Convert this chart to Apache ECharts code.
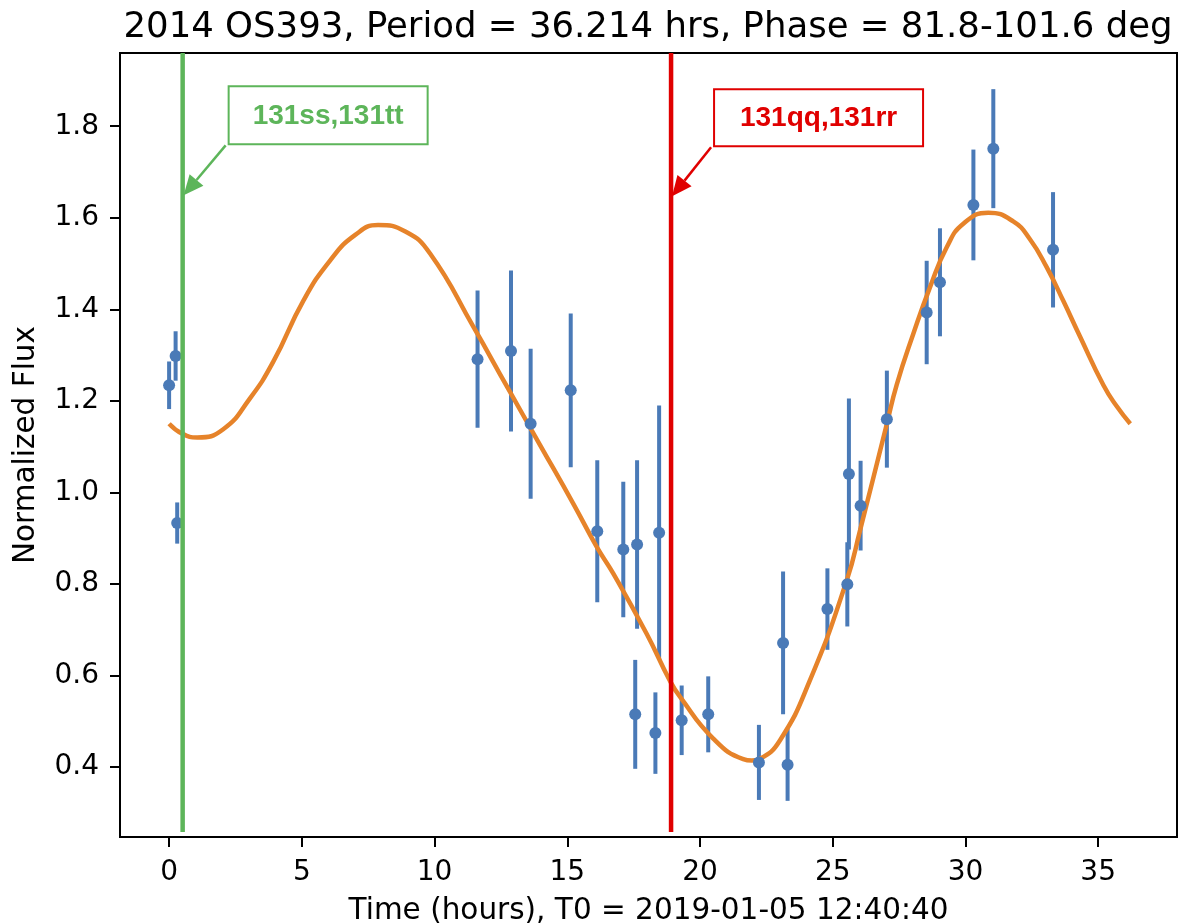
<!DOCTYPE html>
<html>
<head>
<meta charset="utf-8">
<script src="https://cdn.jsdelivr.net/npm/echarts@6/dist/echarts.min.js"></script>
<style>
  html, body { margin: 0; padding: 0; background: #fff; }
  #chart { width: 1179px; height: 924px; }
</style>
</head>
<body>
<div id="chart"></div>
<script>
// measured points (hours since T0), normalized flux and 1-sigma error
var timeHours = [0.0, 0.245, 0.305, 11.62, 12.88, 13.62, 15.13, 16.13, 17.11, 17.63, 17.56, 18.32, 18.46, 19.31,
  20.31, 22.22, 23.13, 23.30, 24.80, 25.55, 25.61, 26.05, 27.04, 28.54, 29.04, 30.30, 31.05, 33.30];
var flux = [1.234, 1.298, 0.933, 1.291, 1.309, 1.150, 1.223, 0.915, 0.875, 0.886, 0.515, 0.474, 0.912, 0.502,
  0.515, 0.410, 0.671, 0.405, 0.745, 0.799, 1.040, 0.971, 1.160, 1.393, 1.459, 1.628, 1.751, 1.530];
var fluxErr = [0.052, 0.054, 0.045, 0.150, 0.176, 0.164, 0.168, 0.155, 0.148, 0.184, 0.119, 0.089, 0.278, 0.076,
  0.083, 0.082, 0.156, 0.079, 0.089, 0.092, 0.165, 0.098, 0.106, 0.113, 0.118, 0.121, 0.130, 0.126];

// fitted light curve
var fitTime = [0, 0.5, 1.06, 2.04, 3.04, 3.92, 5.05, 6.07, 7.0, 7.87, 8.9, 9.83, 11.46, 12.72, 13.97,
  15.23, 16.11, 16.73, 17.99, 18.87, 19.25, 20.5, 21.63, 21.95, 22.26, 23.01, 24.14, 25.53, 26.03, 27.04, 27.41,
  28.04, 28.67, 29.3, 29.92, 30.86, 31.8, 32.43, 33.06, 33.69, 34.32, 35.2, 35.7, 36.21];
var fitFlux = [1.150, 1.128, 1.120, 1.138, 1.205, 1.285, 1.418, 1.507, 1.562, 1.584, 1.570, 1.522, 1.362,
  1.232, 1.104, 0.975, 0.881, 0.823, 0.691, 0.588, 0.553, 0.462, 0.417, 0.414, 0.418, 0.458, 0.589, 0.808, 0.917,
  1.150, 1.235, 1.347, 1.449, 1.536, 1.587, 1.611, 1.592, 1.553, 1.492, 1.418, 1.340, 1.234, 1.188, 1.150];

// observation epochs marked with vertical lines
var markTimes = [0.51, 18.91];
var markLabels = ['131ss,131tt', '131qq,131rr'];

var xTicks = [0, 5, 10, 15, 20, 25, 30, 35];
var yTicks = [0.4, 0.6, 0.8, 1.0, 1.2, 1.4, 1.6, 1.8];

var BLUE = '#4a7ab7';
var ORANGE = '#e6832a';
var markColors = ['#5db55a', '#e00000'];
var FONT = 'DejaVu Sans';

var xMin = -1.85, xMax = 37.97, yMin = 0.247, yMax = 1.96;
var markBottom = 0.258;

// box placement relative to arrow tip (pixels)
var boxLayout = [
  { tipFlux: 1.649, dx: 45, dy: -109, w: 199, h: 58 },
  { tipFlux: 1.647, dx: 42, dy: -107, w: 209, h: 57 }
];

var chart = echarts.init(document.getElementById('chart'));

var errData = timeHours.map(function (t, i) {
  return [t, flux[i] - fluxErr[i], flux[i] + fluxErr[i]];
});

var series = [
  {
    type: 'custom',
    z: 2,
    data: errData,
    encode: { x: 0, y: [1, 2] },
    renderItem: function (params, api) {
      var lo = api.coord([api.value(0), api.value(1)]);
      var hi = api.coord([api.value(0), api.value(2)]);
      return {
        type: 'line',
        shape: { x1: lo[0], y1: lo[1], x2: hi[0], y2: hi[1] },
        style: { stroke: BLUE, lineWidth: 4 }
      };
    }
  },
  {
    type: 'line',
    z: 3,
    data: fitTime.map(function (t, i) { return [t, fitFlux[i]]; }),
    showSymbol: false,
    smooth: 0.5,
    lineStyle: { color: ORANGE, width: 4.5 }
  },
  {
    type: 'scatter',
    z: 4,
    data: timeHours.map(function (t, i) { return [t, flux[i]]; }),
    symbolSize: 12,
    itemStyle: { color: BLUE, opacity: 1 }
  }
];

markTimes.forEach(function (t, i) {
  series.push({
    type: 'line',
    z: 5,
    data: [[t, markBottom], [t, yMax]],
    showSymbol: false,
    lineStyle: { color: markColors[i], width: 4.5 }
  });
});

var tickText = { fontFamily: FONT, fontSize: 28, color: '#000' };
var nameText = { fontFamily: FONT, fontSize: 29.5, color: '#000' };

var option = {
  animation: false,
  title: {
    text: '2014 OS393, Period = 36.214 hrs, Phase = 81.8-101.6 deg',
    left: 643,
    top: 5,
    textAlign: 'center',
    textStyle: { fontFamily: FONT, fontSize: 35.5, fontWeight: 'normal', color: '#000' }
  },
  grid: {
    left: 120, right: 2, top: 53, bottom: 87,
    outerBoundsMode: 'none',
    containLabel: false,
    show: true, borderColor: '#000', borderWidth: 2, backgroundColor: 'transparent'
  },
  xAxis: {
    type: 'value',
    min: xMin, max: xMax,
    axisLine: { onZero: false, lineStyle: { color: '#000', width: 2 } },
    axisTick: { customValues: xTicks, length: 10, lineStyle: { color: '#000', width: 2 } },
    axisLabel: Object.assign({ customValues: xTicks, margin: 22 }, tickText),
    splitLine: { show: false },
    name: 'Time (hours), T0 = 2019-01-05 12:40:40',
    nameLocation: 'middle',
    nameGap: 59,
    nameTextStyle: nameText
  },
  yAxis: {
    type: 'value',
    min: yMin, max: yMax,
    axisLine: { show: true, onZero: false, lineStyle: { color: '#000', width: 2 } },
    axisTick: { show: true, customValues: yTicks, length: 10, lineStyle: { color: '#000', width: 2 } },
    axisLabel: Object.assign({
      customValues: yTicks, margin: 21,
      formatter: function (v) { return v.toFixed(1); }
    }, tickText),
    splitLine: { show: false },
    name: 'Normalized Flux',
    nameLocation: 'middle',
    nameGap: 79,
    nameTextStyle: nameText
  },
  series: series
};

chart.setOption(option);

// annotation boxes with arrows pointing at the epoch lines
var graphics = [];
markTimes.forEach(function (t, i) {
  var lay = boxLayout[i];
  var color = markColors[i];
  var tip = chart.convertToPixel({ gridIndex: 0 }, [t, lay.tipFlux]);
  tip[0] += 1;
  var bx = tip[0] + lay.dx, by = tip[1] + lay.dy;
  var start = [bx - 3, by + lay.h + 1];
  var dx = tip[0] - start[0], dy = tip[1] - start[1];
  var len = Math.sqrt(dx * dx + dy * dy);
  var ux = dx / len, uy = dy / len;
  var headLen = 20, headHalf = 9;
  var base = [tip[0] - ux * headLen, tip[1] - uy * headLen];
  graphics.push({
    type: 'rect', z: 20,
    shape: { x: bx, y: by, width: lay.w, height: lay.h },
    style: { fill: '#fff', stroke: color, lineWidth: 2 }
  });
  graphics.push({
    type: 'text', z: 21,
    style: {
      text: markLabels[i], x: bx + lay.w / 2, y: by + lay.h / 2 + 1,
      align: 'center', verticalAlign: 'middle',
      fill: color, fontFamily: 'Liberation Sans', fontWeight: 'bold', fontSize: 28
    }
  });
  graphics.push({
    type: 'line', z: 20,
    shape: { x1: start[0], y1: start[1], x2: base[0], y2: base[1] },
    style: { stroke: color, lineWidth: 2.5 }
  });
  graphics.push({
    type: 'polygon', z: 20,
    shape: {
      points: [
        tip,
        [base[0] - uy * headHalf, base[1] + ux * headHalf],
        [base[0] + uy * headHalf, base[1] - ux * headHalf]
      ]
    },
    style: { fill: color }
  });
});
chart.setOption({ graphic: graphics });
</script>
</body>
</html>
